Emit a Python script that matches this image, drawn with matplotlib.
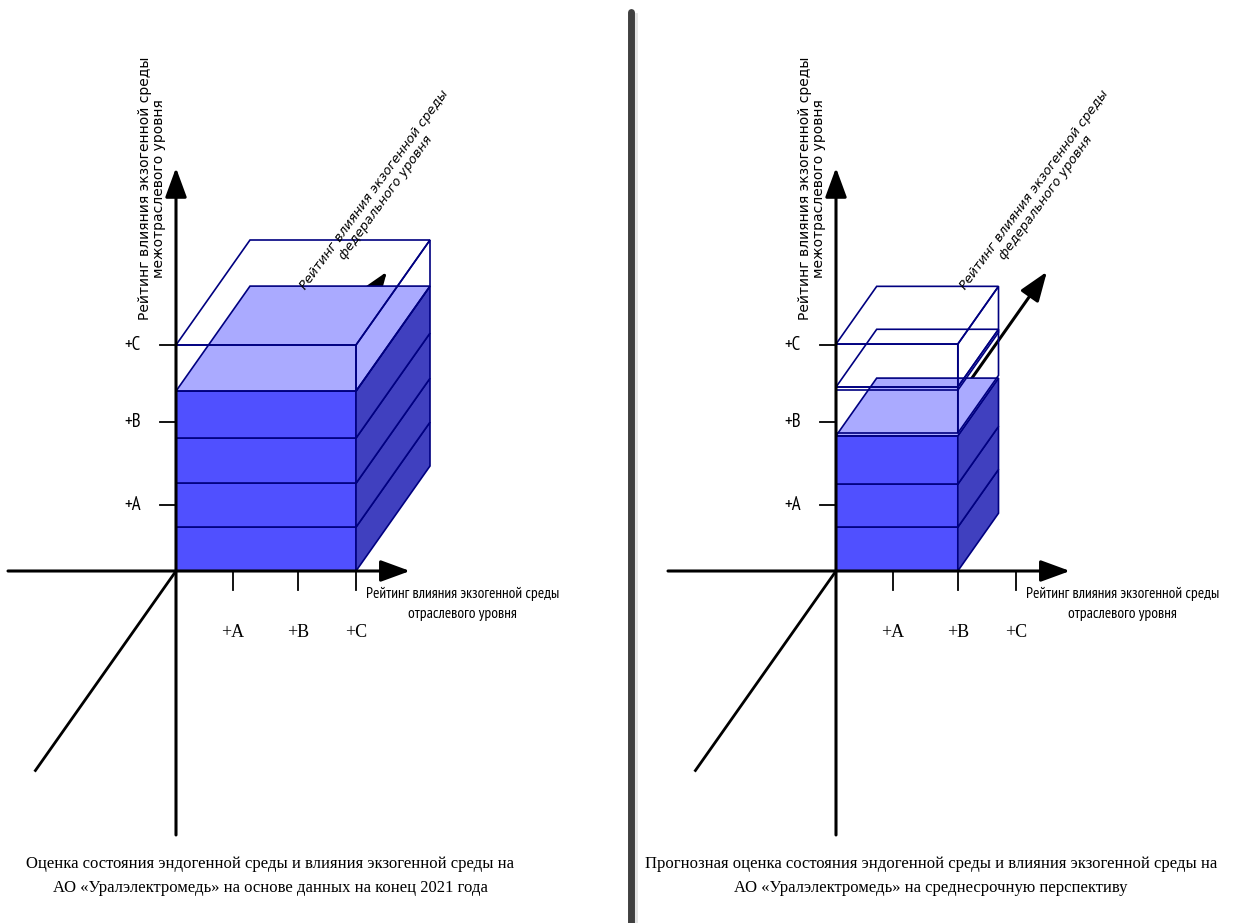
import matplotlib
matplotlib.use('Agg')
import matplotlib.pyplot as plt
from matplotlib.patches import Polygon, Rectangle
from matplotlib.lines import Line2D
from matplotlib import font_manager
from matplotlib.font_manager import FontProperties
from matplotlib.ft2font import FT2Font

W, H = 1234, 923

# rating levels shared by both diagrams
levels = ['+A', '+B', '+C']
x_level_pos = [0.95, 2.03, 3.0]   # отраслевой уровень
y_level_pos = [1.46, 3.30, 5.0]   # межотраслевой уровень

# end of 2021: filled layers (heights) + outlined layers (bottom, top)
layers_2021 = [0.97, 0.97, 1.0, 1.04]
outline_2021 = [(3.98, 5.0)]
width_2021 = 3.0
depth_2021 = 1.0

# medium-term forecast
layers_plan = [0.97, 0.95, 1.07]
outline_plan = [(3.05, 4.07), (4.0, 5.02)]
width_plan = 2.03
depth_plan = 0.55

y_title = 'Рейтинг влияния экзогенной среды\nмежотраслевого уровня'
x_title = 'Рейтинг влияния экзогенной среды\nотраслевого уровня'
z_title = 'Рейтинг влияния экзогенной среды\nфедерального уровня'
captions = [
    'Оценка состояния эндогенной среды и влияния экзогенной среды на\n'
    'АО «Уралэлектромедь» на основе данных на конец 2021 года',
    'Прогнозная оценка состояния эндогенной среды и влияния экзогенной среды на\n'
    'АО «Уралэлектромедь» на среднесрочную перспективу',
]

FRONT = '#5050ff'
TOP = '#aaaaff'
SIDE = '#4040bf'
EDGE = '#000080'

UX, UY = 60.0, 45.2           # pixels per unit
ZX, ZY = 74 / UX, 105 / UY    # one unit of depth (oblique)
Y_AXIS = (-5.84, 8.92)
X_AXIS = (-2.8, 3.9)
Z_AXIS = (-1.9, 2.85)


def has_cyrillic(fname):
    try:
        cmap = FT2Font(fname).get_charmap()
    except Exception:
        return False
    return all(ord(c) in cmap for c in 'РейтингвлияАБВяё')


def narrow_font():
    # look for a narrow / condensed sans face with Cyrillic, else Liberation Sans
    best = None
    for f in font_manager.fontManager.ttflist:
        if f.style != 'normal' or f.weight not in (400, 'normal', 'regular', 'book'):
            continue
        cond = ('Narrow' in f.name or 'Condensed' in f.name
                or f.stretch in ('condensed', 'semi-condensed', 'extra-condensed')
                or (isinstance(f.stretch, int) and f.stretch < 500))
        if not cond or 'Serif' in f.name or 'Mono' in f.name or 'CJK' in f.name:
            continue
        if not has_cyrillic(f.fname):
            continue
        if best is None or 'Narrow' in f.name or 'Liberation' in f.name:
            best = f
    if best is not None:
        return FontProperties(fname=best.fname)
    return FontProperties(family='Liberation Sans')


narrow = narrow_font()

fig = plt.figure(figsize=(W / 100, H / 100), dpi=100)
renderer = fig.canvas.get_renderer()


def fit(t, target):
    w = t.get_window_extent(renderer).width
    t.set_fontsize(t.get_fontsize() * target / w)


arrow = dict(arrowstyle='-|>,head_length=1.5,head_width=0.55', mutation_scale=12,
             lw=2.2, color='black', shrinkA=0, shrinkB=0)


def panel(ox, oy, layers, outline, width, depth):
    ax = fig.add_axes([0, 0, 1, 1])
    ax.set_xlim(-ox / UX, (W - ox) / UX)
    ax.set_ylim((oy - H) / UY, oy / UY)
    ax.axis('off')
    ax.patch.set_alpha(0)

    # federal level axis (behind the block)
    ax.plot([Z_AXIS[0] * ZX, 0], [Z_AXIS[0] * ZY, 0], color='black', lw=2, zorder=1)
    ax.annotate('', xy=(Z_AXIS[1] * ZX, Z_AXIS[1] * ZY), xytext=(0, 0),
                arrowprops=arrow, zorder=1)

    dx, dy = depth * ZX, depth * ZY
    y0 = 0
    for h in layers:
        y1 = y0 + h
        ax.add_patch(Rectangle((0, y0), width, h, fc=FRONT, ec=EDGE, lw=1.2, zorder=2))
        ax.add_patch(Polygon([(width, y0), (width + dx, y0 + dy), (width + dx, y1 + dy), (width, y1)],
                             fc=SIDE, ec=EDGE, lw=1.2, zorder=2))
        y0 = y1
    ax.add_patch(Polygon([(0, y0), (width, y0), (width + dx, y0 + dy), (dx, y0 + dy)],
                         fc=TOP, ec=EDGE, lw=1.2, zorder=2))

    for b, t in outline:
        kw = dict(fill=False, ec=EDGE, lw=1.2, zorder=3)
        ax.add_patch(Rectangle((0, b), width, t - b, **kw))
        ax.add_patch(Polygon([(width, b), (width + dx, b + dy), (width + dx, t + dy), (width, t)], **kw))
        ax.add_patch(Polygon([(0, t), (width, t), (width + dx, t + dy), (dx, t + dy)], **kw))

    # main axes
    ax.annotate('', xy=(0, Y_AXIS[1]), xytext=(0, Y_AXIS[0]), arrowprops=arrow, zorder=4)
    ax.annotate('', xy=(X_AXIS[1], 0), xytext=(X_AXIS[0], 0), arrowprops=arrow, zorder=4)

    for p, lab in zip(x_level_pos, levels):
        ax.plot([p, p], [0, -0.42], color='black', lw=1.3, zorder=4)
        ax.text(p, -1.35, lab, ha='center', va='center', family='Liberation Serif', fontsize=13)

    xt = ax.text(4.78, -0.73, x_title, ha='center', va='center', fontproperties=narrow,
                 linespacing=1.55)
    xt.set_fontsize(10)
    fit(xt, 197)

    for p, lab in zip(y_level_pos, levels):
        ax.plot([-0.27, 0], [p, p], color='black', lw=1.3, zorder=4)
        yl = ax.text(-0.73, p, lab, ha='center', va='center', fontproperties=narrow)
        yl.set_fontsize(13.5)

    ax.text(-0.4, 8.47, y_title, rotation=90, ha='center', va='center',
            fontsize=10, linespacing=1.05, family='DejaVu Sans')
    ax.text(3.4, 8.35, z_title, rotation=54, rotation_mode='anchor', ha='center', va='center',
            fontsize=9.3, style='italic', linespacing=1.1, family='DejaVu Sans')
    return ax


panel(176, 571, layers_2021, outline_2021, width_2021, depth_2021)
panel(836, 571, layers_plan, outline_plan, width_plan, depth_plan)

for cx, cap in zip([270, 931], captions):
    fig.text(cx / W, 1 - 876 / H, cap, ha='center', va='center',
             family='Liberation Serif', fontsize=12, linespacing=1.65)

# divider between the two diagrams
fig.add_artist(Line2D([636 / W] * 2, [1 - 14 / H, 0], transform=fig.transFigure,
                      color='#e4e4e4', lw=2))
fig.add_artist(Line2D([631 / W] * 2, [1 - 12 / H, -0.01], transform=fig.transFigure,
                      color='#404040', lw=5, solid_capstyle='round'))

fig.savefig('out.png', dpi=100)
